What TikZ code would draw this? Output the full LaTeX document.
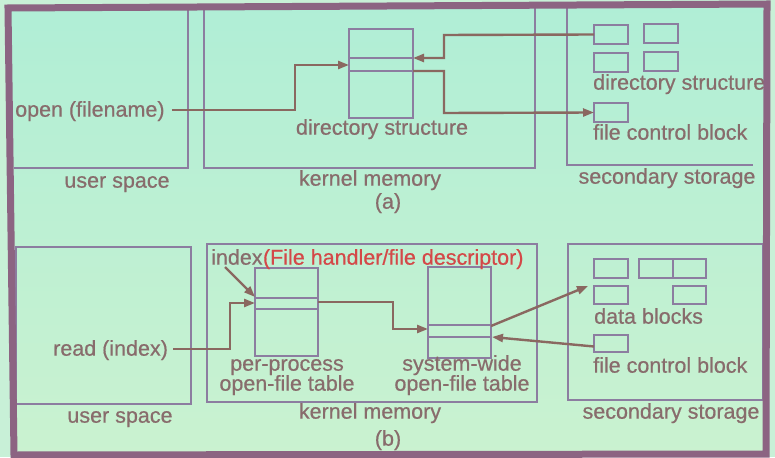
\documentclass[tikz,border=0pt]{standalone}
\usepackage{fontspec}
\setmainfont[FakeBold=0.6]{Liberation Sans}
\usetikzlibrary{arrows.meta,calc}
\definecolor{bgtop}{RGB}{176,238,214}
\definecolor{bgbot}{RGB}{202,242,208}
\definecolor{outer}{RGB}{200,240,215}
\definecolor{framec}{RGB}{140,100,130}
\definecolor{boxc}{RGB}{140,125,160}
\definecolor{arrc}{RGB}{138,104,96}
\definecolor{txtc}{RGB}{136,108,108}
\definecolor{redc}{RGB}{212,72,72}
\newcommand{\fs}{\fontsize{21.5}{18}\selectfont}
\tikzset{
  area/.style={draw=boxc, line width=1.1pt},
  tbl/.style={draw=boxc, line width=1.1pt, inner sep=0pt, outer sep=0pt, anchor=north west},
  arr/.style={draw=arrc, line width=2.4pt, -{Triangle[length=11pt,width=8pt]}},
  lbl/.style={text=txtc, inner sep=0pt, font=\fs, anchor=mid},
}
\begin{document}
\fs
\begin{tikzpicture}[x=1pt,y=-1pt]
\useasboundingbox (0,0) rectangle (775,457);
\fill[outer] (0,0) rectangle (775,457);
\shade[top color=bgtop, bottom color=bgbot] (8,8) -- (767,4) -- (766,454) -- (14,455) -- cycle;

% ---------------- (a) ----------------
\draw[area] (14,168) -- (188,168) -- (188,8);
\draw[area] (204,8) -- (204,168) -- (535,168) -- (535,6);
\draw[area] (567,6) -- (567,165) -- (753,165);
\node[lbl] (ua) at (117,182) {user space};
\node[lbl] (ka) at (370,180) {kernel memory};
\node[lbl] (la) at (388,203) {(a)};
\node[lbl] (sa) at (667,178) {secondary storage};

\node[tbl, minimum width=64pt, minimum height=89pt] (dir) at (349,29) {};
\draw[area] ($(dir.north west)+(0,29)$) -- ($(dir.north east)+(0,29)$);
\draw[area] ($(dir.north west)+(0,42)$) -- ($(dir.north east)+(0,42)$);
\node[lbl] (dirl) at (382,129) {directory structure};

\node[tbl, minimum width=34pt, minimum height=19pt] (da1) at (594,25) {};
\node[tbl, minimum width=34pt, minimum height=19pt] (da2) at (644,24) {};
\node[tbl, minimum width=34pt, minimum height=19pt] (da3) at (594,53) {};
\node[tbl, minimum width=34pt, minimum height=19pt] (da4) at (644,52) {};
\node[lbl, anchor=mid west] (dsl) at (593,84) {directory structure};
\node[tbl, minimum width=34pt, minimum height=19pt] (fcba) at (594,103) {};
\node[lbl, anchor=mid west] (fcbal) at (593,134) {file control block};

\node[lbl, anchor=mid west] (open) at (15,111) {open (filename)};
\coordinate (openE) at ($(open.mid east)+(7,-1)$);
\coordinate (dirIn) at ($(dir.north west)+(0,36)$);
\coordinate (dirOutTop) at ($(dir.north east)+(0,29)$);
\coordinate (dirOutBot) at ($(dir.north east)+(0,42)$);
\draw[arr] (openE) -- (295,110) -- (295,65) -- (dirIn);
\draw[arr] (da1.west) -- (444,35) -- (444,58) -- (dirOutTop);
\draw[arr] (dirOutBot) -- (444,71) -- (444,113) -- (fcba.west);

% ---------------- (b) ----------------
\draw[area] (16,247) rectangle (191,404);
\draw[area] (207,244) rectangle (537,402);
\draw[area] (568,244) rectangle (763,400);
\node[lbl] (ub) at (120,417) {user space};
\node[lbl] (kb) at (370,413) {kernel memory};
\node[lbl] (lb) at (388,440) {(b)};
\node[lbl] (sb) at (671,413) {secondary storage};

\node[tbl, minimum width=63pt, minimum height=88pt] (ppt) at (255,268) {};
\draw[area] ($(ppt.north west)+(0,30)$) -- ($(ppt.north east)+(0,30)$);
\draw[area] ($(ppt.north west)+(0,41)$) -- ($(ppt.north east)+(0,41)$);
\node[lbl] (pptl1) at (287,365) {per-process};
\node[lbl] (pptl2) at (287,385) {open-file table};

\node[tbl, minimum width=63pt, minimum height=91pt] (swt) at (428,267) {};
\draw[area] ($(swt.north west)+(0,58)$) -- ($(swt.north east)+(0,58)$);
\draw[area] ($(swt.north west)+(0,70)$) -- ($(swt.north east)+(0,70)$);
\node[lbl] (swtl1) at (462,365) {system-wide};
\node[lbl] (swtl2) at (462,385) {open-file table};

\node[lbl, anchor=mid west] (idx) at (211,259) {index};
\node[inner sep=0pt, anchor=mid west, text=redc, font=\fs] (fh) at (idx.mid east) {(File handler/file descriptor)};

\node[tbl, minimum width=34pt, minimum height=19pt] (db1) at (594,259) {};
\node[tbl, minimum width=34pt, minimum height=19pt] (db2) at (639,259) {};
\node[tbl, minimum width=33pt, minimum height=19pt] (db3) at (673,259) {};
\node[tbl, minimum width=34pt, minimum height=18pt] (db4) at (594,286) {};
\node[tbl, minimum width=33pt, minimum height=18pt] (db5) at (673,286) {};
\node[lbl, anchor=mid west] (dbl) at (594,318) {data blocks};
\node[tbl, minimum width=34pt, minimum height=17pt] (fcbb) at (594,335) {};
\node[lbl, anchor=mid west] (fcbbl) at (593,367) {file control block};

\node[lbl, anchor=mid west] (read) at (53,350) {read (index)};
\coordinate (readE) at ($(read.mid east)+(5,-1)$);
\coordinate (pptIn) at ($(ppt.north west)+(0,35)$);
\coordinate (pptOut) at ($(ppt.north east)+(0,34)$);
\coordinate (swtIn) at ($(swt.north west)+(0,62)$);
\coordinate (swtOut) at ($(swt.north east)+(0,59)$);
\coordinate (swtBack) at ($(swt.north east)+(1,70)$);
\coordinate (idxArr) at (225,267);
\coordinate (pptIdx) at ($(ppt.north west)+(0,29)$);
\coordinate (dbIn) at ($(db4.north west)+(-6,0)$);
\coordinate (fcbOut) at ($(fcbb.west)+(0,3)$);

\draw[arr] (readE) -- (230,349) -- (230,303) -- (pptIn);
\draw[arr] (idxArr) -- (pptIdx);
\draw[arr] (pptOut) -- (393,302) -- (393,329) -- (swtIn);
\draw[arr] (swtOut) -- (dbIn);
\draw[arr] (fcbOut) -- (swtBack);

% frame
\draw[framec, line width=7pt, line join=miter] (8,8) -- (767,4) -- (766,454) -- (14,455) -- cycle;
\end{tikzpicture}
\end{document}
